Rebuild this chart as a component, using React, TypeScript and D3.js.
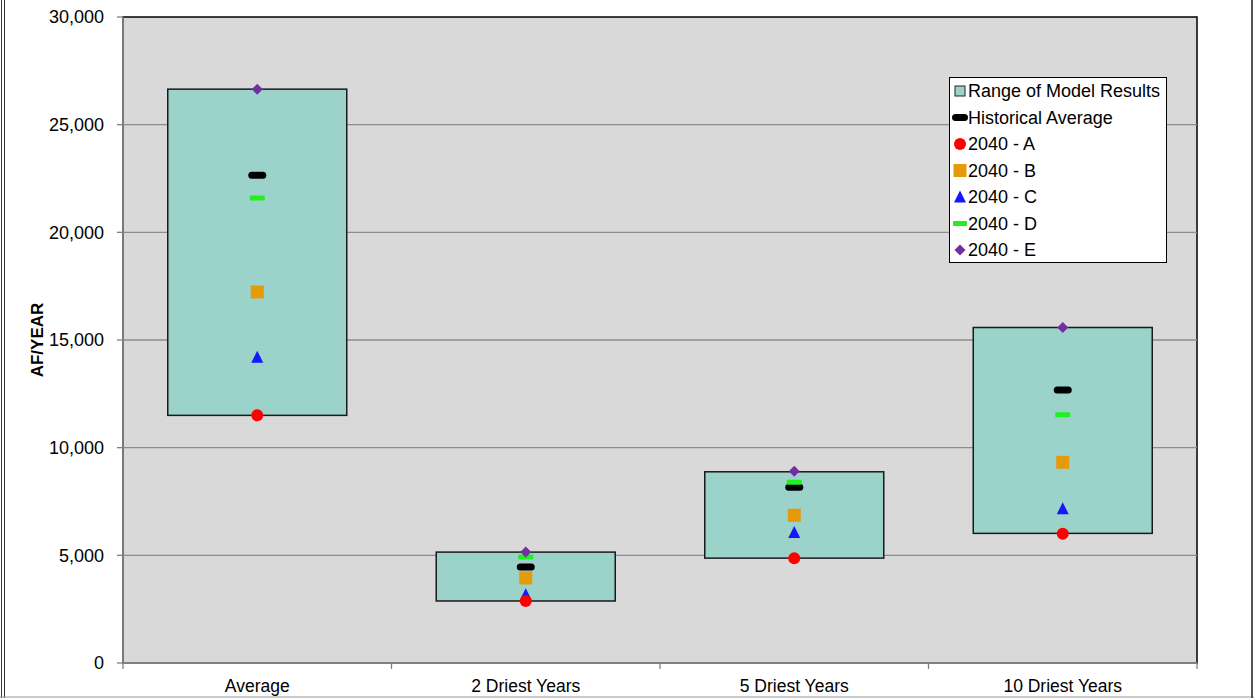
import React from "react";
import * as d3 from "d3";

const categories = ["Average", "2 Driest Years", "5 Driest Years", "10 Driest Years"];
const rangeLow = [11500, 2880, 4870, 6020];
const rangeHigh = [26650, 5150, 8880, 15580];
const historical = [22650, 4460, 8160, 12680];
const s2040A = [11500, 2880, 4870, 6000];
const s2040B = [17230, 3950, 6860, 9320];
const s2040C = [14200, 3170, 6060, 7160];
const s2040D = [21590, 4920, 8390, 11530];
const s2040E = [26650, 5150, 8900, 15580];
const yTicks = [0, 5000, 10000, 15000, 20000, 25000, 30000];
const legendLabels = [
  "Range of Model Results",
  "Historical Average",
  "2040 - A",
  "2040 - B",
  "2040 - C",
  "2040 - D",
  "2040 - E",
];

const W = 1254;
const H = 698;
const PL = 123, PR = 1197, PT = 17, PB = 663;
const TEAL = "#9bd3ca";
const RED = "#ff0000";
const ORANGE = "#e59a0a";
const BLUE = "#1515ff";
const GREEN = "#22ee22";
const PURPLE = "#7030a0";
const FONT = "Arial, 'Liberation Sans', sans-serif";

type Kind = "range" | "hist" | "A" | "B" | "C" | "D" | "E";

function Marker({ kind, cx, cy, legend }: { kind: Kind; cx: number; cy: number; legend?: boolean }) {
  switch (kind) {
    case "range":
      return <rect x={cx - 5} y={cy - 5} width={10} height={10} fill={TEAL} stroke="#222" strokeWidth={1} />;
    case "hist": {
      const w = legend ? 16 : 18;
      return <rect x={cx - w / 2} y={cy - 3.5} width={w} height={7} rx={3.5} fill="#000" />;
    }
    case "A":
      return <circle cx={cx} cy={cy} r={6} fill={RED} />;
    case "B":
      return <rect x={cx - 6.5} y={cy - 6.5} width={13} height={13} fill={ORANGE} />;
    case "C":
      return <path d={`M${cx},${cy - 6.5} L${cx + 6},${cy + 5.5} L${cx - 6},${cy + 5.5} Z`} fill={BLUE} />;
    case "D": {
      const w = legend ? 14 : 15;
      return <rect x={cx - w / 2} y={cy - 2.5} width={w} height={5} rx={1} fill={GREEN} />;
    }
    case "E":
      return <path d={`M${cx},${cy - 5.5} L${cx + 5.5},${cy} L${cx},${cy + 5.5} L${cx - 5.5},${cy} Z`} fill={PURPLE} />;
  }
  return null;
}

export default function App() {
  const x = d3.scaleBand<string>().domain(categories).range([PL, PR]).paddingInner(1 / 3).paddingOuter(1 / 6);
  const y = d3.scaleLinear().domain([0, 30000]).range([PB, PT]);
  const step = x.step();
  const bw = x.bandwidth();
  const bounds = d3.range(categories.length + 1).map((i) => PL + i * step);

  const seriesMarks: [Kind, number[]][] = [
    ["hist", historical],
    ["D", s2040D],
    ["B", s2040B],
    ["C", s2040C],
    ["A", s2040A],
    ["E", s2040E],
  ];
  const legendKinds: Kind[] = ["range", "hist", "A", "B", "C", "D", "E"];

  return (
    <div style={{ position: "absolute", left: 0, top: 0, width: W, height: H, background: "#fff" }}>
      <svg width={W} height={H} style={{ display: "block", fontFamily: FONT }}>
        <rect x={0} y={0} width={W} height={H} fill="#fff" />
        {/* outer frame */}
        <line x1={1.5} y1={0} x2={1.5} y2={H} stroke="#333" strokeWidth={1} />
        <line x1={4.5} y1={0} x2={4.5} y2={H} stroke="#333" strokeWidth={1} />
        <line x1={0} y1={697} x2={W} y2={697} stroke="#999" strokeWidth={1.2} />
        <line x1={1252} y1={0} x2={1252} y2={H} stroke="#555" strokeWidth={2} />

        {/* plot area */}
        <rect x={PL} y={PT} width={PR - PL} height={PB - PT} fill="#d9d9d9" stroke="#000" strokeWidth={1.5} />
        {yTicks.filter((t) => t > 0 && t < 30000).map((t) => (
          <line key={t} x1={PL} x2={PR} y1={y(t)} y2={y(t)} stroke="#8c8c8c" strokeWidth={1.3} />
        ))}
        {/* axes */}
        <line x1={PL} x2={PL} y1={PT} y2={PB} stroke="#808080" strokeWidth={1.8} />
        <line x1={PL} x2={PR} y1={PB} y2={PB} stroke="#808080" strokeWidth={1.8} />
        {yTicks.map((t) => (
          <g key={t}>
            <line x1={PL - 6} x2={PL} y1={y(t)} y2={y(t)} stroke="#808080" strokeWidth={1.3} />
            <text x={104} y={y(t)} dy="0.35em" textAnchor="end" fontSize={18} fill="#000">
              {d3.format(",")(t)}
            </text>
          </g>
        ))}
        {bounds.map((b, i) => (
          <line key={i} x1={b} x2={b} y1={PB} y2={PB + 6} stroke="#808080" strokeWidth={1.3} />
        ))}
        {categories.map((c) => (
          <text key={c} x={(x(c) as number) + bw / 2} y={692} textAnchor="middle" fontSize={17.5} fill="#000">
            {c}
          </text>
        ))}
        <text
          transform={`translate(43,${(PT + PB) / 2}) rotate(-90)`}
          textAnchor="middle"
          fontSize={17}
          fontWeight="bold"
          fill="#000"
        >
          AF/YEAR
        </text>

        {/* range boxes */}
        {categories.map((c, i) => (
          <rect
            key={c}
            x={x(c) as number}
            y={y(rangeHigh[i])}
            width={bw}
            height={y(rangeLow[i]) - y(rangeHigh[i])}
            fill={TEAL}
            stroke="#1a1a1a"
            strokeWidth={1.5}
          />
        ))}

        {/* markers */}
        {seriesMarks.map(([k, vals]) =>
          categories.map((c, i) => (
            <Marker key={k + c} kind={k} cx={(x(c) as number) + bw / 2} cy={y(vals[i])} />
          ))
        )}

        {/* legend */}
        <rect x={949.5} y={77.5} width={217} height={185} fill="#fff" stroke="#000" strokeWidth={1} />
        {legendLabels.map((l, i) => {
          const cy = 91 + i * 26.5;
          return (
            <g key={l}>
              <Marker kind={legendKinds[i]} cx={960} cy={cy} legend />
              <text x={968} y={cy} dy="0.36em" fontSize={18} fill="#000">
                {l}
              </text>
            </g>
          );
        })}
      </svg>
    </div>
  );
}
